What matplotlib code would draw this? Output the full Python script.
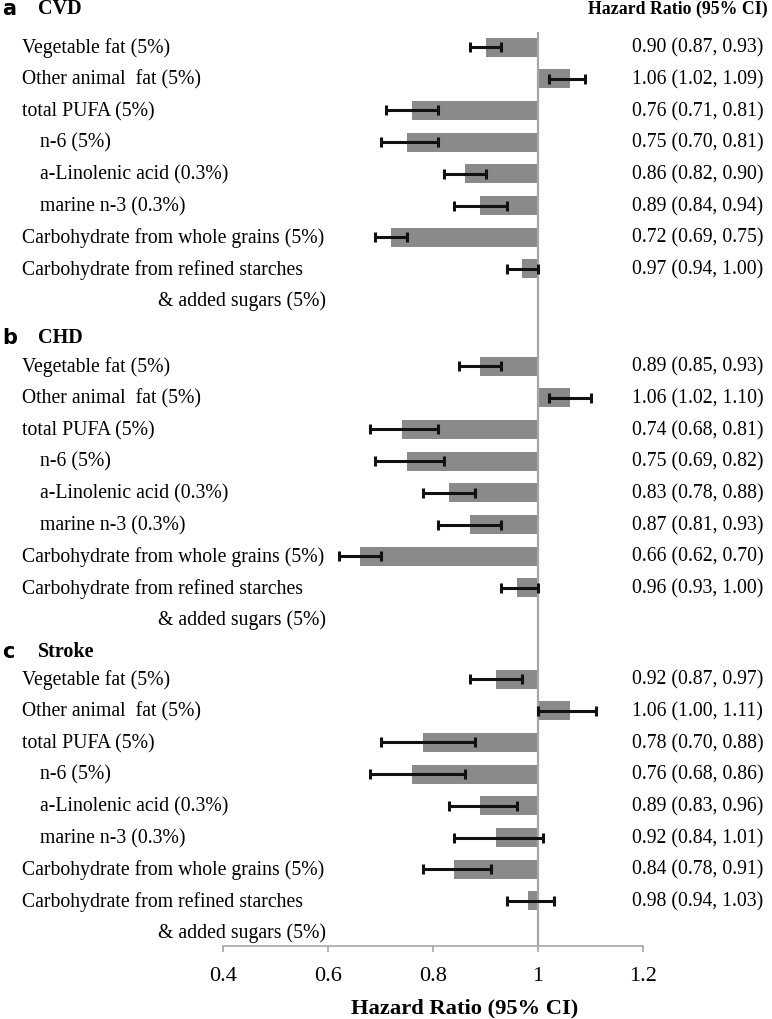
import matplotlib.pyplot as plt
import matplotlib.transforms as mtransforms

# hazard ratios and 95% CI
panels = ['CVD', 'CHD', 'Stroke']
panel_letters = ['a', 'b', 'c']
items = ['Vegetable fat (5%)', 'Other animal  fat (5%)', 'total PUFA (5%)', 'n-6 (5%)',
         'a-Linolenic acid (0.3%)', 'marine n-3 (0.3%)',
         'Carbohydrate from whole grains (5%)', 'Carbohydrate from refined starches']
indented = [False, False, False, True, True, True, False, False]
hr_cvd = [0.90, 1.06, 0.76, 0.75, 0.86, 0.89, 0.72, 0.97]
lo_cvd = [0.87, 1.02, 0.71, 0.70, 0.82, 0.84, 0.69, 0.94]
hi_cvd = [0.93, 1.09, 0.81, 0.81, 0.90, 0.94, 0.75, 1.00]
hr_chd = [0.89, 1.06, 0.74, 0.75, 0.83, 0.87, 0.66, 0.96]
lo_chd = [0.85, 1.02, 0.68, 0.69, 0.78, 0.81, 0.62, 0.93]
hi_chd = [0.93, 1.10, 0.81, 0.82, 0.88, 0.93, 0.70, 1.00]
hr_stroke = [0.92, 1.06, 0.78, 0.76, 0.89, 0.92, 0.84, 0.98]
lo_stroke = [0.87, 1.00, 0.70, 0.68, 0.83, 0.84, 0.78, 0.94]
hi_stroke = [0.97, 1.11, 0.88, 0.86, 0.96, 1.01, 0.91, 1.03]
xticks = [0.4, 0.6, 0.8, 1.0, 1.2]
xticklabels = ['0.4', '0.6', '0.8', '1', '1.2']

data = [(hr_cvd, lo_cvd, hi_cvd), (hr_chd, lo_chd, hi_chd), (hr_stroke, lo_stroke, hi_stroke)]

# layout (y in pixels from the top)
panel_top = [48, 367, 680]
header_y = [9, 338, 652]
step = 31.7

plt.rcParams['font.family'] = ['Liberation Serif', 'DejaVu Serif']
W, H = 772, 1020
axis_y = 947
fig = plt.figure(figsize=(W / 100, H / 100), dpi=100)
ax = fig.add_axes([223 / W, (H - axis_y) / H, (643 - 223) / W, axis_y / H])
tr = mtransforms.blended_transform_factory(fig.transFigure, ax.transData)
fs = 14.25

for p in range(3):
    hr, lo, hi = data[p]
    ax.text(2 / W, header_y[p], panel_letters[p], transform=tr, family='DejaVu Sans',
            fontweight='bold', fontsize=15, va='center')
    ax.text(38 / W, header_y[p], panels[p], transform=tr, fontweight='bold', fontsize=14.5,
            va='center')
    rows = [panel_top[p] + step * i for i in range(8)]
    widths = [1 - h for h in hr]
    ax.barh(rows, widths, left=hr, height=19, color='#8a8a8a', zorder=1)
    errs = [[h - l for h, l in zip(hr, lo)], [u - h for h, u in zip(hr, hi)]]
    ax.errorbar(hr, rows, xerr=errs, fmt='none', ecolor='#111111', elinewidth=2.2,
                capsize=3.5, capthick=2.2, zorder=3)
    for i, r in enumerate(rows):
        x0 = 40 if indented[i] else 22
        ax.text(x0 / W, r, items[i], transform=tr, fontsize=fs, va='center')
        ax.text(632 / W, r, '%.2f (%.2f, %.2f)' % (hr[i], lo[i], hi[i]),
                transform=tr, fontsize=fs, va='center')
    ax.text(158 / W, panel_top[p] + step * 8, '& added sugars (5%)', transform=tr,
            fontsize=fs, va='center')

ax.text(588 / W, header_y[0], 'Hazard Ratio (95% CI)', transform=tr, fontweight='bold',
        fontsize=12.8, va='center')

ax.vlines(1.0, 33, axis_y, color='#a6a6a6', lw=1.6, zorder=2)
ax.set_xlim(0.4, 1.2)
ax.set_ylim(axis_y, 0)
ax.set_yticks([])
ax.set_xticks(xticks)
ax.set_xticklabels(xticklabels, fontsize=16)
shift = mtransforms.ScaledTranslation(5 / 100, 0, fig.dpi_scale_trans)
for lab in ax.get_xticklabels():
    lab.set_transform(lab.get_transform() + shift)
for s in ['top', 'right', 'left']:
    ax.spines[s].set_visible(False)
ax.spines['bottom'].set_color('#a6a6a6')
ax.spines['bottom'].set_linewidth(1.2)
ax.tick_params(axis='x', color='#a6a6a6', length=4.5, width=1.2, pad=10)
ax.set_xlabel('Hazard Ratio (95% CI)', fontweight='bold', fontsize=16.2)
ax.xaxis.set_label_coords((465 - 223) / 420, -51 / axis_y)

fig.savefig('out.png', dpi=100)
